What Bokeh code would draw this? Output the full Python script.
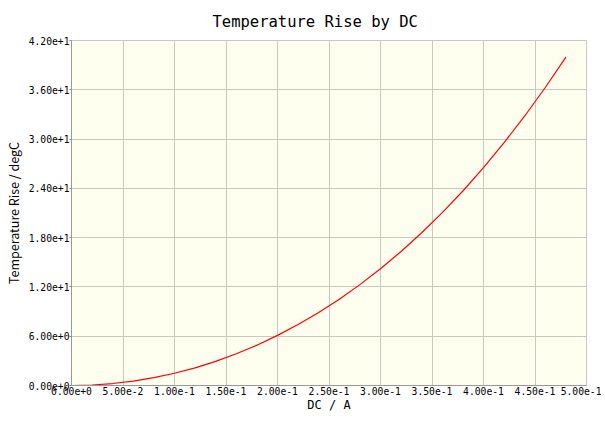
from bokeh.plotting import figure
from bokeh.models import FixedTicker, CustomJSTickFormatter, Range1d
from bokeh.embed import file_html
from bokeh.resources import INLINE

# Data
current_a = [0.00, 0.02, 0.04, 0.06, 0.08, 0.10, 0.12, 0.14, 0.16, 0.18,
             0.20, 0.22, 0.24, 0.26, 0.28, 0.30, 0.32, 0.34, 0.36, 0.38,
             0.40, 0.42, 0.44, 0.46, 0.48]
temp_rise = [0.00, 0.06, 0.24, 0.53, 0.95, 1.49, 2.15, 2.94, 3.86, 4.91,
             6.10, 7.42, 8.89, 10.51, 12.28, 14.22, 16.32, 18.59, 21.04, 23.68,
             26.52, 29.56, 32.81, 36.28, 39.98]
x_ticks = [0.0, 0.05, 0.10, 0.15, 0.20, 0.25, 0.30, 0.35, 0.40, 0.45, 0.50]
y_ticks = [0, 6, 12, 18, 24, 30, 36, 42]

MONO = "DejaVu Sans Mono"

p = figure(frame_width=515, frame_height=345, output_backend="svg", toolbar_location=None,
           x_range=Range1d(0, 0.5), y_range=Range1d(0, 42),
           title="Temperature Rise by DC",
           x_axis_label="DC / A", y_axis_label="Temperature Rise / degC",
           min_border_left=59, min_border_right=15, min_border_top=33, min_border_bottom=20)

p.background_fill_color = "#fffff0"
p.border_fill_color = "white"
p.outline_line_color = "#c8c8c8"

p.title.align = "left"
p.title.offset = 141
p.title.text_font = MONO
p.title.text_font_size = "15.5px"
p.title.text_font_style = "normal"
p.title.text_color = "black"
p.title.standoff = 20

fmt = CustomJSTickFormatter(code="return tick.toExponential(2);")
for ax, ticks in ((p.xaxis[0], x_ticks), (p.yaxis[0], y_ticks)):
    ax.ticker = FixedTicker(ticks=ticks)
    ax.formatter = fmt
    ax.minor_tick_line_color = None
    ax.major_tick_in = 0
    ax.major_tick_out = 2
    ax.major_tick_line_color = "#888888"
    ax.axis_line_color = "#999999"
    ax.major_label_text_font = MONO
    ax.major_label_text_font_size = "9.7px"
    ax.major_label_text_color = "black"
    ax.major_label_standoff = 0
    ax.axis_label_text_font_style = "normal"
    ax.axis_label_text_color = "black"

p.xaxis[0].major_tick_out = 0
p.xaxis[0].major_label_standoff = 1
p.xaxis[0].axis_label_text_font = MONO
p.xaxis[0].axis_label_text_font_size = "12px"
p.xaxis[0].axis_label_standoff = 0
p.yaxis[0].axis_label_text_font = "Noto Sans CJK JP"
p.yaxis[0].axis_label_text_font_size = "12.5px"
p.yaxis[0].axis_label_standoff = 3

p.xgrid.ticker = FixedTicker(ticks=x_ticks)
p.ygrid.ticker = FixedTicker(ticks=y_ticks)
for g in (p.xgrid[0], p.ygrid[0]):
    g.grid_line_color = "#c8c8c0"
    g.grid_line_width = 1

p.line(current_a, temp_rise, line_color="red", line_width=1.2)

open("out.html", "w").write(file_html(p, INLINE))
